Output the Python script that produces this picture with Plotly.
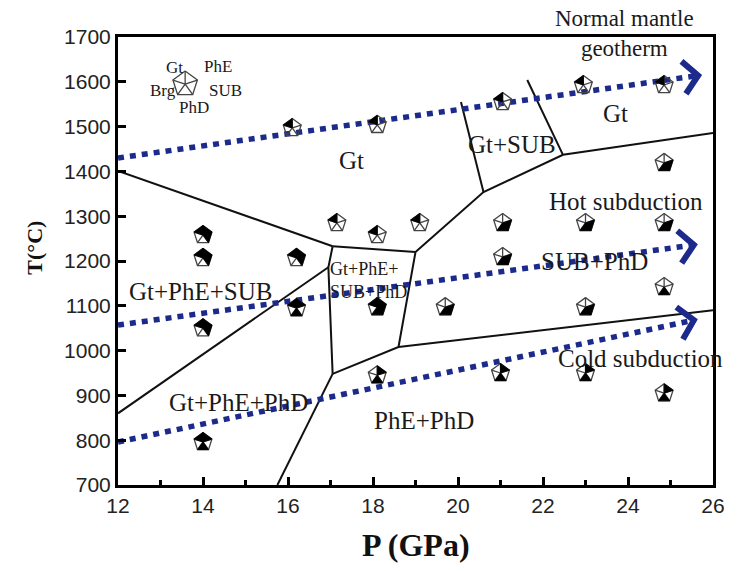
import numpy as np
import plotly.graph_objects as go

# ---------------- axes ----------------
P_RANGE = [12, 26]
T_RANGE = [700, 1700]
p_ticks = [12, 14, 16, 18, 20, 22, 24, 26]
t_ticks = [700, 800, 900, 1000, 1100, 1200, 1300, 1400, 1500, 1600, 1700]

# ---------------- experimental runs ----------------
run_P = [16.1, 18.1, 17.15, 18.1, 19.1, 21.05, 22.95, 24.85,
         24.85, 21.05, 23.0, 24.85, 21.05, 24.85, 23.0, 19.7,
         18.1, 16.2, 16.2, 14.0, 14.0, 14.0, 14.0,
         18.1, 21.0, 23.0, 24.85]
run_T = [1497, 1504, 1285, 1258, 1285, 1555, 1593, 1593,
         1419, 1285, 1285, 1285, 1209, 1142, 1097, 1097,
         1097, 1207, 1095, 1258, 1207, 1050, 796,
         945, 950, 950, 905]
run_phases = ["Gt", "Gt", "Gt", "Gt", "Gt", "Gt", "Gt", "Gt",
              "SUB+PhD", "SUB+PhD", "SUB+PhD", "SUB+PhD", "SUB+PhD", "PhD", "SUB+PhD", "SUB+PhD",
              "Gt+PhE+SUB+PhD", "Gt+PhE+SUB", "Gt+PhE+PhD", "Gt+PhE+SUB", "Gt+PhE+SUB", "Gt+PhE+SUB", "Gt+PhE+PhD",
              "PhE+PhD", "PhE+PhD", "PhE+PhD", "PhE+PhD"]

# ---------------- phase boundaries ----------------
b1_P, b1_T = [12.0, 17.05], [1401, 1233]
b2_P, b2_T = [17.05, 19.0], [1233, 1220]
b3_P, b3_T = [17.05, 16.95, 17.05], [1233, 1186, 948]
b4_P, b4_T = [12.0, 16.95], [860, 1186]
b5_P, b5_T = [17.05, 15.75], [948, 700]
b6_P, b6_T = [17.05, 18.6, 19.0, 20.6, 22.47, 26.0], [948, 1008, 1220, 1354, 1437, 1486]
b7_P, b7_T = [18.6, 26.0], [1008, 1090]
b8_P, b8_T = [20.6, 20.07], [1354, 1555]
b9_P, b9_T = [22.47, 21.63], [1437, 1604]
boundary_lines = [(b1_P, b1_T), (b2_P, b2_T), (b3_P, b3_T), (b4_P, b4_T), (b5_P, b5_T),
                  (b6_P, b6_T), (b7_P, b7_T), (b8_P, b8_T), (b9_P, b9_T)]

# ---------------- geotherms ----------------
normal_P, normal_T = [12.0, 25.65], [1430, 1614]
hot_P, hot_T = [12.0, 25.55], [1057, 1236]
cold_P, cold_T = [12.0, 25.55], [796, 1068]

# ---------------- layout geometry ----------------
W, H = 737, 571
ML, MR, MT, MB = 118, 17, 37, 86
plot_w = W - ML - MR
plot_h = H - MT - MB
sx = (P_RANGE[1] - P_RANGE[0]) / plot_w   # GPa per pixel
sy = (T_RANGE[1] - T_RANGE[0]) / plot_h   # degC per pixel

NAVY = "#1c2a8c"
SERIF = "Liberation Serif"
SANS = "Liberation Sans"

# pentagon sectors (angles in degrees, vertex at top)
sector_angles = {"Gt": (162, 90), "PhE": (90, 18), "SUB": (18, -54),
                 "PhD": (-54, -126), "Brg": (-126, -198)}
vertex_angles = [90, 18, -54, -126, -198]


def off(p, t, r, deg):
    a = np.radians(deg)
    return p + r * np.cos(a) * sx, t + r * np.sin(a) * sy


def pentagon_paths(p, t, r, phases):
    fx, fy, ox, oy = [], [], [], []
    for ph in phases:
        a1, a2 = sector_angles[ph]
        x1, y1 = off(p, t, r, a1)
        x2, y2 = off(p, t, r, a2)
        fx += [p, x1, x2, p, None]
        fy += [t, y1, y2, t, None]
    vs = [off(p, t, r, a) for a in vertex_angles]
    ox += [v[0] for v in vs] + [vs[0][0], None]
    oy += [v[1] for v in vs] + [vs[0][1], None]
    for v in vs:
        ox += [p, v[0], None]
        oy += [t, v[1], None]
    return fx, fy, ox, oy


fig = go.Figure()

# phase boundaries
for bp, bt in boundary_lines:
    fig.add_trace(go.Scatter(x=bp, y=bt, mode="lines",
                             line=dict(color="#111111", width=2), hoverinfo="skip"))

# geotherms with chevron heads
for gp, gt in [(normal_P, normal_T), (hot_P, hot_T), (cold_P, cold_T)]:
    fig.add_trace(go.Scatter(x=gp, y=gt, mode="lines",
                             line=dict(color=NAVY, width=5.5, dash="6px,6px"),
                             hoverinfo="skip"))
    dxp = (gp[1] - gp[0]) / sx
    dyp = (gt[1] - gt[0]) / sy
    ang = np.degrees(np.arctan2(dyp, dxp))
    tip_p, tip_t = gp[1], gt[1]
    up = off(tip_p, tip_t, 22, ang + 180 - 48)
    dn = off(tip_p, tip_t, 22, ang + 180 + 48)
    fig.add_trace(go.Scatter(x=[up[0], tip_p, dn[0]], y=[up[1], tip_t, dn[1]],
                             mode="lines", line=dict(color=NAVY, width=6),
                             hoverinfo="skip"))

# run symbols
FX, FY, OX, OY = [], [], [], []
for p, t, ph in zip(run_P, run_T, run_phases):
    fx, fy, ox, oy = pentagon_paths(p, t, 9.5, ph.split("+"))
    FX += fx; FY += fy; OX += ox; OY += oy

# key symbol
key_P, key_T = 13.58, 1595
fx, fy, ox, oy = pentagon_paths(key_P, key_T, 13, [])
OX += ox; OY += oy

fig.add_trace(go.Scatter(x=OX, y=OY, mode="lines", fill=None,
                         line=dict(color="#444444", width=1.3), hoverinfo="skip"))
fig.add_trace(go.Scatter(x=FX, y=FY, mode="lines", fill="toself",
                         fillcolor="#000000", line=dict(color="#000000", width=0.8),
                         hoverinfo="skip"))

annotations = []


def label(text, p, t, size=25, **kw):
    d = dict(x=p, y=t, xref="x", yref="y", text=text, showarrow=False,
             font=dict(family=SERIF, size=size, color="#1a1a1a"))
    d.update(kw)
    annotations.append(d)


label("Gt", 17.5, 1425)
label("Gt+SUB", 21.28, 1459)
label("Gt", 23.7, 1530)
label("Hot subduction", 23.95, 1332)
label("SUB+PhD", 23.2, 1198)
label("Cold subduction", 24.3, 983)
label("PhE+PhD", 19.2, 845)
label("Gt+PhE+PhD", 14.84, 885)
label("Gt+PhE+SUB", 13.95, 1131)
label("Gt+PhE+<br>SUB+PhD", 16.93, 1157, size=18, xanchor="left", align="left")

# key labels
for txt, dx, dy in [("Gt", -11, 17), ("PhE", 33, 18), ("Brg", -22, -6),
                    ("SUB", 40, -6), ("PhD", 9, -23)]:
    label(txt, key_P, key_T, size=17, xshift=dx, yshift=dy)

# geotherm caption above the frame
annotations.append(dict(x=(630 - ML) / plot_w, y=(H - MB - 34) / plot_h,
                        xref="paper", yref="paper", xanchor="center", yanchor="middle",
                        text="Normal mantle<br>geotherm",
                        showarrow=False, align="center",
                        font=dict(family=SERIF, size=23, color="#1a1a1a")))

# axis titles
annotations.append(dict(x=0.5, y=-0.135, xref="paper", yref="paper", yanchor="middle",
                        text="<b>P (GPa)</b>", showarrow=False,
                        font=dict(family=SERIF, size=32, color="#111")))
annotations.append(dict(x=(18 - ML) / plot_w, y=(H - MB - 248) / plot_h,
                        xref="paper", yref="paper", text="<b>T(°C)</b>",
                        showarrow=False, textangle=-90,
                        font=dict(family=SERIF, size=22, color="#111")))

fig.update_layout(
    width=W, height=H,
    margin=dict(l=ML, r=MR, t=MT, b=MB),
    plot_bgcolor="white", paper_bgcolor="white",
    showlegend=False,
    annotations=annotations,
    xaxis=dict(range=P_RANGE, tickvals=p_ticks, ticks="inside", ticklen=8, tickwidth=2.5,
               tickcolor="black", showline=True, linewidth=3, linecolor="black", mirror=True,
               showgrid=False, zeroline=False,
               tickfont=dict(family=SANS, size=21, color="#222"),
               minor=dict(ticks="inside", ticklen=5, tickwidth=2.5, tickcolor="black",
                          dtick=1, tick0=12, showgrid=False)),
    yaxis=dict(range=T_RANGE, tickvals=t_ticks, ticks="inside", ticklen=8, tickwidth=2.5,
               tickcolor="black", showline=True, linewidth=3, linecolor="black", mirror=True,
               showgrid=False, zeroline=False,
               tickfont=dict(family=SANS, size=21, color="#222")),
)

fig.write_html("out.html")
